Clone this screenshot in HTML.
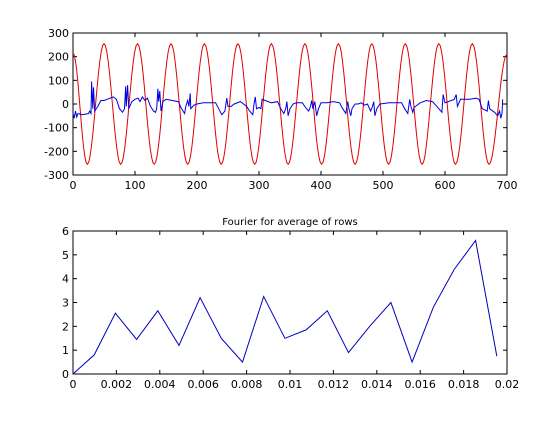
<!DOCTYPE html>
<html><head><meta charset="utf-8"><style>
body{margin:0;background:#fff;}
svg text{font-family:"DejaVu Sans","Liberation Sans",sans-serif;font-size:11px;fill:#000;}
</style></head><body>
<svg id="chart" width="560" height="420" viewBox="0 0 560 420" xmlns="http://www.w3.org/2000/svg"></svg>
<script>
// top plot data
const redPeakX=[50,104,158,212,266,320,374,428,482,536,590,644];
const redTroughX=[23,77,131,185,239,293,347,401,455,509,563,617,671];
const redAmp=[255];
const redStart=[0,215];const redEnd=[700,210];
const blueX=[0,2,4,6,8,15,25,27,29,30,31,32,33,35,40,45,50,55,60,65,70,75,80,83,85,86,88,90,95,100,105,108,112,116,120,125,130,133,135,137,138,140,142,145,150,160,170,175,180,182,185,187,189,190,195,200,210,220,230,235,240,245,248,250,255,260,270,280,285,290,292,294,296,300,303,305,310,320,330,335,340,343,345,347,350,355,360,370,375,380,383,385,387,390,393,396,400,410,420,430,435,440,443,445,448,450,455,460,465,470,475,480,483,485,487,490,495,510,520,530,535,540,543,545,548,550,560,570,580,590,595,597,600,615,618,620,625,640,650,655,660,668,670,672,680,685,688,690,692,693];
const blueY=[-40,-60,-30,-55,-40,-45,-40,-30,-40,95,40,-20,70,-30,-10,15,15,20,25,30,20,-20,-35,-20,75,-10,80,-20,10,20,25,10,30,15,25,-10,-30,-35,-20,65,10,55,-30,10,20,15,10,-20,-40,-10,15,-10,45,-20,-5,0,5,5,5,-20,-45,-30,25,-10,-10,0,10,-10,-30,-45,0,30,-20,-15,-20,20,15,5,10,-20,-40,-20,10,-50,-20,0,5,5,-15,-30,-10,15,-20,10,-50,-20,5,5,10,5,-20,-40,10,-20,-50,-20,0,0,5,-5,0,-30,-10,10,-50,-20,0,5,5,5,-20,-40,20,-10,-35,-15,5,15,10,-20,-35,40,5,20,40,-10,20,20,25,20,-20,-30,15,-20,-35,-50,-30,-60,-40,20];
const topXTicks=[0,100,200,300,400,500,600,700];
const topYTicks=[-300,-200,-100,0,100,200,300];
// bottom plot data
const fourierF=[0,0.000977,0.001953,0.00293,0.003906,0.004883,0.005859,0.006836,0.007813,0.008789,0.009766,0.010742,0.011719,0.012695,0.013672,0.014648,0.015625,0.016602,0.017578,0.018555,0.019531];
const fourierAmp=[0,0.8,2.55,1.45,2.65,1.2,3.2,1.5,0.5,3.25,1.5,1.85,2.65,0.9,2.0,3.0,0.5,2.8,4.4,5.6,0.75];
const botXTicks=[0,0.002,0.004,0.006,0.008,0.01,0.012,0.014,0.016,0.018,0.02];
const botXLabels=["0","0.002","0.004","0.006","0.008","0.01","0.012","0.014","0.016","0.018","0.02"];
const botYTicks=[0,1,2,3,4,5,6];

const svg=document.getElementById('chart');
const NS='http://www.w3.org/2000/svg';
function mk(t,a){const e=document.createElementNS(NS,t);for(const k in a)e.setAttribute(k,a[k]);svg.appendChild(e);return e;}
const L=73,R=507;
function axes(T,B,x0,x1,y0,y1,xt,xl,yt,pref){
  const sx=v=>L+(v-x0)/(x1-x0)*(R-L), sy=v=>B-(v-y0)/(y1-y0)*(B-T);
  const box=mk('rect',{x:L,y:T,width:R-L,height:B-T,fill:'none',stroke:'#000','stroke-width':1});
  
  
  xt.forEach((v,i)=>{const x=sx(v);
    mk('line',{x1:x,x2:x,y1:B,y2:B-4,stroke:'#000'});mk('line',{x1:x,x2:x,y1:T,y2:T+4,stroke:'#000'});
    const t=mk('text',{x:x,y:B+14,'text-anchor':'middle'});t.textContent=xl[i];
    
    });
  yt.forEach(v=>{const y=sy(v);
    mk('line',{x1:L,x2:L+4,y1:y,y2:y,stroke:'#000'});mk('line',{x1:R,x2:R-4,y1:y,y2:y,stroke:'#000'});
    const t=mk('text',{x:L-4,y:y+4,'text-anchor':'end'});t.textContent=String(v);
    
    });
  return [sx,sy];
}
// top
const [tx,ty]=axes(33,175,0,700,-300,300,topXTicks,topXTicks.map(String),topYTicks,'top');
// red sine from extrema
let ext=[redStart];
const all=[...redPeakX.map(x=>[x,redAmp[0]]),...redTroughX.map(x=>[x,-redAmp[0]])].sort((a,b)=>a[0]-b[0]);
ext=ext.concat(all);ext.push(redEnd);
let d='';
for(let i=0;i<ext.length-1;i++){const [xa,ya]=ext[i],[xb,yb]=ext[i+1];
  for(let k=0;k<=12;k++){const u=k/12,v=ya+(yb-ya)*(1-Math.cos(Math.PI*u))/2,x=xa+(xb-xa)*u;
    d+=(d?'L':'M')+tx(x).toFixed(1)+','+ty(v).toFixed(1);}}
const red=mk('path',{d:d,fill:'none',stroke:'#e00000','stroke-width':1});


const blue=mk('path',{d:blueX.map((x,i)=>(i?'L':'M')+tx(x).toFixed(1)+','+ty(blueY[i]).toFixed(1)).join(''),fill:'none',stroke:'#0000e0','stroke-width':1});


// bottom
const [bx,by]=axes(231,374,0,0.02,0,6,botXTicks,botXLabels,botYTicks,'bottom');
const f=mk('path',{d:fourierF.map((x,i)=>(i?'L':'M')+bx(x).toFixed(1)+','+by(fourierAmp[i]).toFixed(1)).join(''),fill:'none',stroke:'#0000c0','stroke-width':1});


const title=mk('text',{x:290,y:225,'text-anchor':'middle'});title.textContent='Fourier for average of rows';
title.style.fontSize='10px';


</script>
</body></html>
